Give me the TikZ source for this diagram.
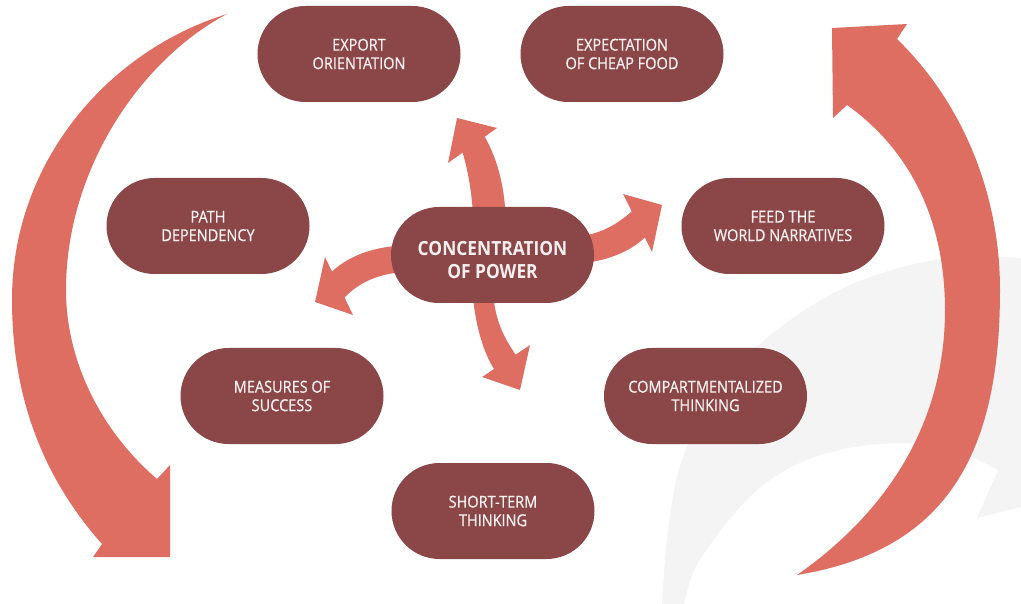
\documentclass[tikz,border=0pt]{standalone}
\usepackage{fontspec}
\newfontfamily\pillfont[FakeStretch=0.88,FakeBold=0.6]{Open Sans}
\newfontfamily\centerfont[FakeStretch=0.89]{Open Sans}
\definecolor{pillred}{HTML}{8B4747}
\definecolor{arrowred}{HTML}{DE6E62}
\definecolor{ringgray}{HTML}{F4F4F4}
\definecolor{pilltext}{HTML}{F8F0F0}
\tikzset{
  pill/.style={draw=none, fill=pillred, rounded corners=48pt, minimum width=203pt, minimum height=96pt,
    text=pilltext, align=center, font=\pillfont\fontsize{16.5}{18.5}\selectfont, inner sep=0pt},
  bigtext/.style={text=pilltext, align=center, font=\centerfont\bfseries\fontsize{19.5}{23}\selectfont, inner sep=0pt},
  arrowfill/.style={fill=arrowred, draw=none},
  ringfill/.style={fill=ringgray, draw=none}
}
\begin{document}
\begin{tikzpicture}[x=1pt,y=-1pt]
\useasboundingbox (0,0) rectangle (1021,604);
% background grey ring
\fill[ringgray] plot[smooth, tension=0.6] coordinates {(662,604) (668,530) (683,457) (720,390) (773,333) (850,285) (940,259) (1021,258)}
  -- (1021,507) -- (977,518) -- (998,470)
  -- plot[smooth, tension=0.6] coordinates {(998,470) (950,448) (907,443) (855,447) (807,460) (770,480) (740,507) (710,545) (693,573) (684,604)}
  -- cycle;
% left big arrow
\fill[arrowfill] (157,479) -- (170,465) -- (170,557) -- (93,557) -- (102,544)
  .. controls (45,480) and (12,400) .. (12,300)
  .. controls (12,160) and (110,50) .. (227,14)
  .. controls (140,60) and (66,170) .. (66,290)
  .. controls (66,360) and (100,430) .. (157,479) -- cycle;
% right big arrow
\fill[arrowfill] (832,28) -- (907,24) -- (897,39)
  .. controls (960,100) and (1000,190) .. (1000,290)
  .. controls (1000,450) and (950,550) .. (797,575)
  .. controls (890,510) and (945,420) .. (945,310)
  .. controls (945,220) and (910,150) .. (847,105)
  -- (833,118) -- cycle;
% centre arrows
\fill[arrowfill] (474,230) .. controls (472,185) and (466,165) .. (462.7,152.5)
  -- (448,163) -- (457,118) -- (497,128) -- (484.75,136.75)
  .. controls (498,160) and (506,190) .. (506,230) -- cycle;
\fill[arrowfill] (575,264) .. controls (605,262) and (630,252) .. (644.75,237.5)
  -- (652,252) -- (662,205) -- (623,194) -- (631.7,211.4)
  .. controls (620,222) and (600,236) .. (575,236) -- cycle;
\fill[arrowfill] (410,245) .. controls (375,246) and (350,255) .. (332,271.5)
  -- (325,257) -- (315,302) -- (353,315) -- (344.6,297.6)
  .. controls (358,283) and (380,272) .. (410,272) -- cycle;
\fill[arrowfill] (472,285) .. controls (474,320) and (482,350) .. (494,369)
  -- (482,377) -- (520,390) -- (530,345) -- (515.6,354.6)
  .. controls (502,335) and (493,315) .. (493,285) -- cycle;
% pills
\node[pill] (export) at (359,54) {EXPORT\\ORIENTATION};
\node[pill] (cheap) at (622,54) {EXPECTATION\\OF CHEAP FOOD};
\node[pill] (path) at (208,226) {PATH\\DEPENDENCY};
\node[pill] (power) at (492.5,255) {};
\node[bigtext] (powertext) at (492.5,260) {CONCENTRATION\\OF POWER};
\node[pill] (feed) at (783,226) {FEED THE\\WORLD NARRATIVES};
\node[pill] (measures) at (282,396) {MEASURES OF\\SUCCESS};
\node[pill] (compart) at (705.5,396) {COMPARTMENTALIZED\\THINKING};
\node[pill] (short) at (493,511) {SHORT-TERM\\THINKING};
\end{tikzpicture}
\end{document}
